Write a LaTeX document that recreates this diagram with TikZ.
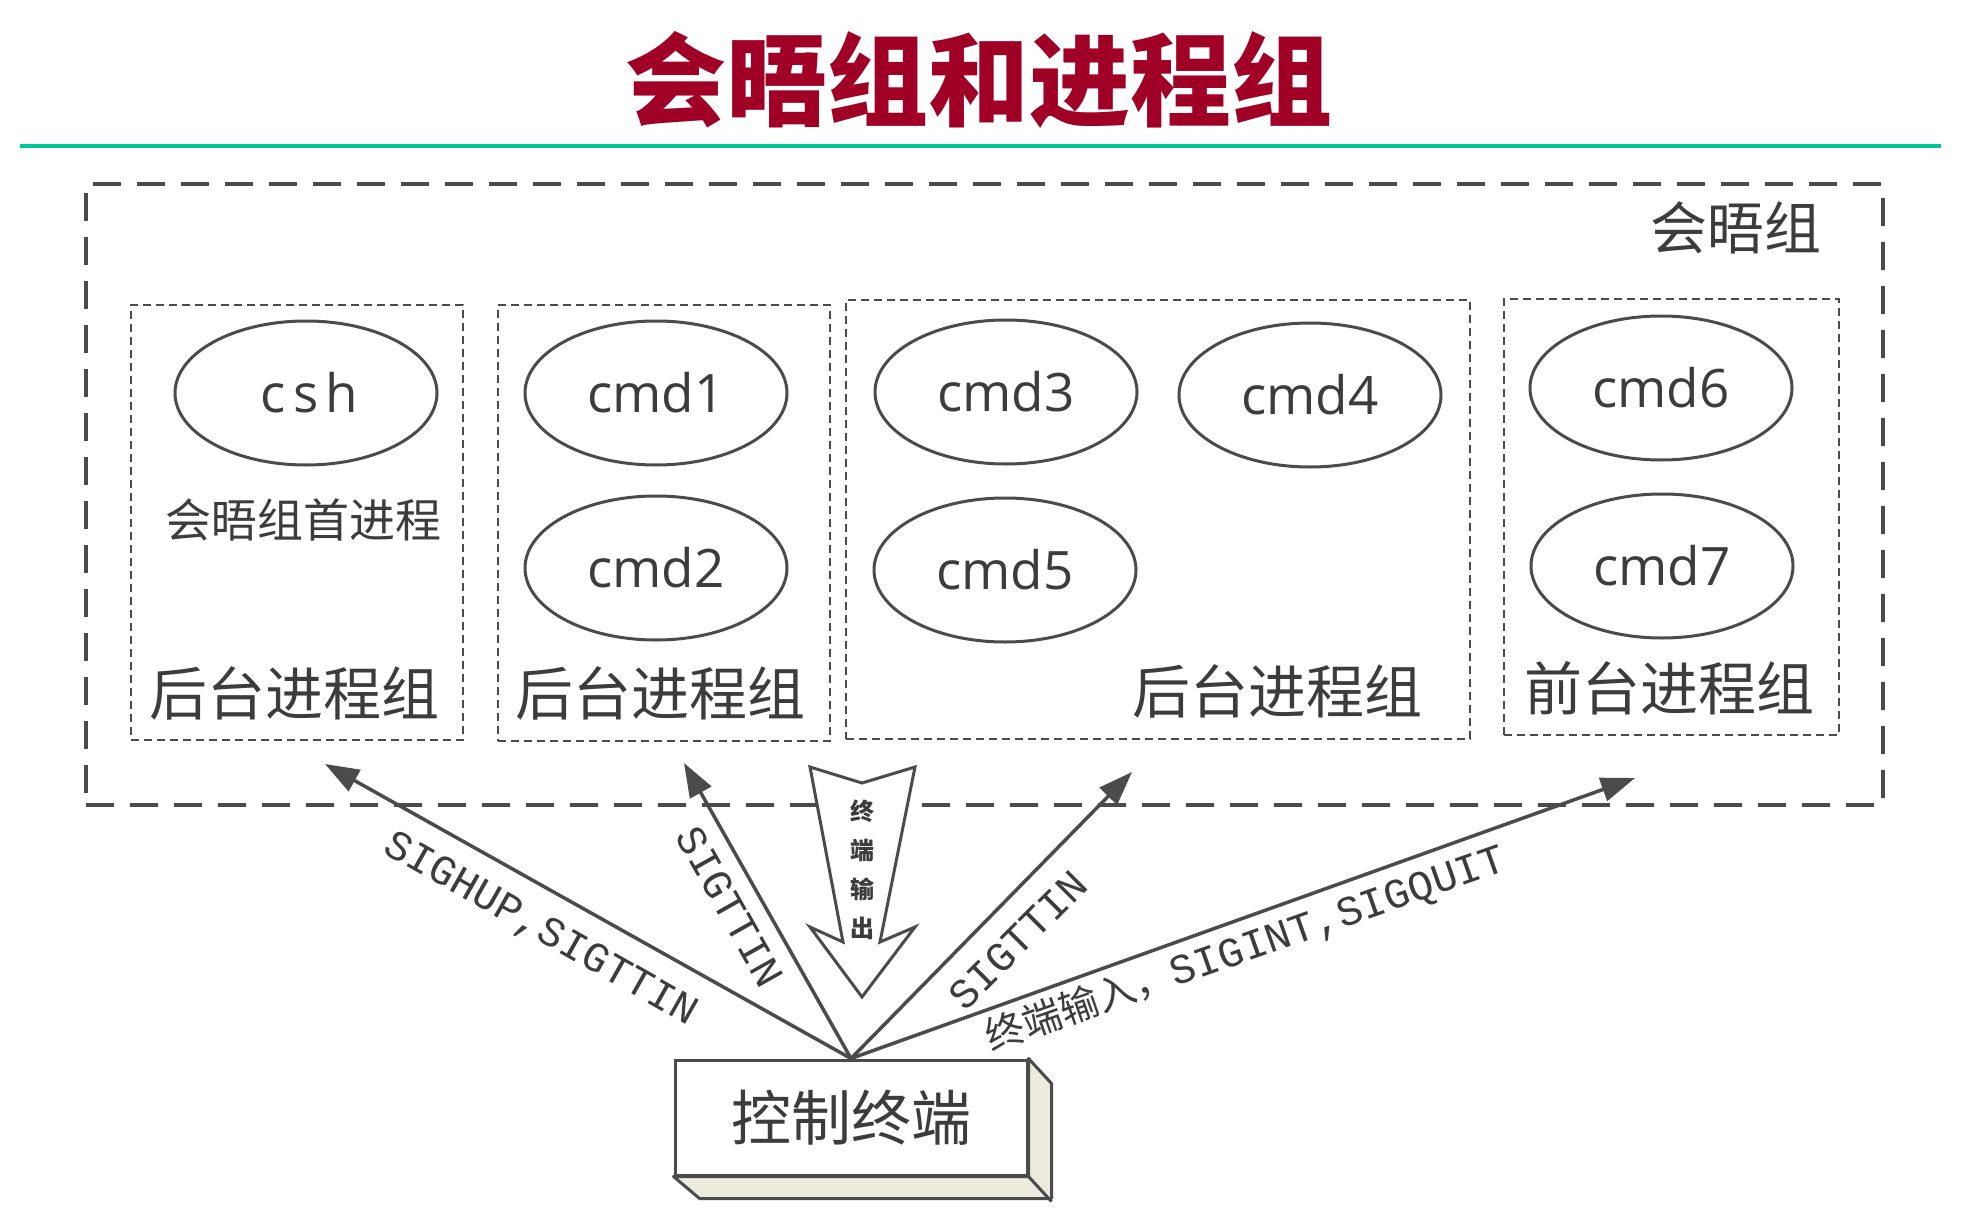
\documentclass[tikz,border=0pt]{standalone}
\usepackage{fontspec}
\newfontfamily\cjk{Noto Sans CJK SC}
\newfontfamily\cmdfont{Open Sans}
\newfontfamily\mono{Liberation Mono}
\usetikzlibrary{shapes.geometric,arrows.meta}
\definecolor{titlered}{RGB}{160,0,38}
\definecolor{rulegreen}{RGB}{0,200,150}
\definecolor{ink}{RGB}{75,75,75}
\definecolor{txt}{RGB}{60,60,60}
\definecolor{slab}{RGB}{236,235,222}
\begin{document}
\begin{tikzpicture}[x=1pt,y=-1pt,
  outerbox/.style={draw=ink,line width=3.5pt,dash pattern=on 28pt off 16pt,inner sep=0pt},
  grpbox/.style={draw=ink,line width=2.5pt,dash pattern=on 8pt off 5pt,inner sep=0pt},
  proc/.style={ellipse,draw=ink,line width=3pt,minimum width=262pt,minimum height=144pt,inner sep=0pt,font=\cmdfont\fontsize{53}{60}\selectfont,text=txt},
  grplabel/.style={font=\cjk\fontsize{58}{64}\selectfont,text=txt,inner sep=0pt},
  sig/.style={draw=ink,line width=3.5pt,-{Triangle[length=34pt,width=24pt]}},
  siglabel/.style={font=\mono\fontsize{42}{48}\selectfont,text=txt,inner sep=0pt},
]
\useasboundingbox (0,0) rectangle (1987,1217);
% title
\node[font=\cjk\bfseries\fontsize{101}{106}\selectfont,text=titlered,inner sep=0pt] (title) at (979,80) {会晤组和进程组};
\coordinate (rl) at (20,146);
\coordinate (rr) at (1941,146);
\draw[rulegreen,line width=4pt] (rl) -- (rr);
% session
\node[outerbox,minimum width=1797pt,minimum height=621pt] (session) at (984.5,494.5) {};
\node[font=\cjk\fontsize{57}{60}\selectfont,text=txt,inner sep=0pt] (sesslabel) at (1736,228) {会晤组};
% groups
\node[grpbox,minimum width=332pt,minimum height=435pt] (g1) at (297,522.5) {};
\node[grpbox,minimum width=332pt,minimum height=436pt] (g2) at (664,523) {};
\node[grpbox,minimum width=624pt,minimum height=439pt] (g3) at (1158,519.5) {};
\node[grpbox,minimum width=335pt,minimum height=436pt] (g4) at (1671.5,517) {};
\node[grplabel] (l1) at (294,693) {后台进程组};
\node[grplabel] (l2) at (660,693) {后台进程组};
\node[grplabel] (l3) at (1277,691) {后台进程组};
\node[grplabel] (l4) at (1669,688) {前台进程组};
% processes
\node[proc] (csh) at (306,393) {\addfontfeatures{LetterSpace=14}csh\kern-7pt};
\node[font=\cjk\fontsize{46}{50}\selectfont,text=txt,inner sep=0pt] (leader) at (303,520) {会晤组首进程};
\node[proc] (cmd1) at (656,393) {cmd1};
\node[proc] (cmd2) at (656,568) {cmd2};
\node[proc] (cmd3) at (1006,392) {cmd3};
\node[proc] (cmd4) at (1310,395) {cmd4};
\node[proc] (cmd5) at (1005,570) {cmd5};
\node[proc] (cmd6) at (1661,388) {cmd6};
\node[proc] (cmd7) at (1662,566) {cmd7};
% control terminal
\node[draw=ink,line width=3pt,fill=white,minimum width=352pt,minimum height=115pt,inner sep=0pt,font=\cjk\fontsize{60}{64}\selectfont,text=txt] (term) at (851,1117.5) {控制终端};
\draw[draw=ink,line width=3pt,fill=slab,line join=round] (term.north east) -- ++(23,25) -- ++(0,115) -- ++(-352,0) -- (term.south west) -- (term.south east) -- cycle;
\draw[draw=ink,line width=3pt] (term.south east) -- ++(23,25);
% signal arrows
\coordinate (t1) at (325,764);
\coordinate (t2) at (684,763);
\coordinate (t3) at (1132,772);
\coordinate (t4) at (1635,778);
\draw[sig] (term.north) -- (t1);
\draw[sig] (term.north) -- (t2);
\draw[sig] (term.north) -- (t3);
\draw[sig] (term.north) -- (t4);
\node[siglabel,rotate=-29.5] (s1) at (540,930) {SIGHUP,SIGTTIN};
\node[siglabel,rotate=-60.6] (s2) at (730,907) {SIGTTIN};
\node[siglabel,rotate=45] (s3) at (1018,940) {SIGTTIN};
\node[siglabel,rotate=19.4] (s4) at (1246,949) {{\cjk\fontsize{39}{42}\selectfont 终端输入，}SIGINT,SIGQUIT};
% output arrow
\draw[draw=ink,line width=3pt,fill=white,line join=miter] (810,767) -- (862,783) -- (915,767) -- (880,942) -- (915,927) -- (862,997) -- (810,927) -- (843,942) -- cycle;
\node[font=\cjk\bfseries\fontsize{24}{39}\selectfont,text=txt,align=center,inner sep=0pt] (outlbl) at (862,870) {终\\端\\输\\出};
\end{tikzpicture}
\end{document}
